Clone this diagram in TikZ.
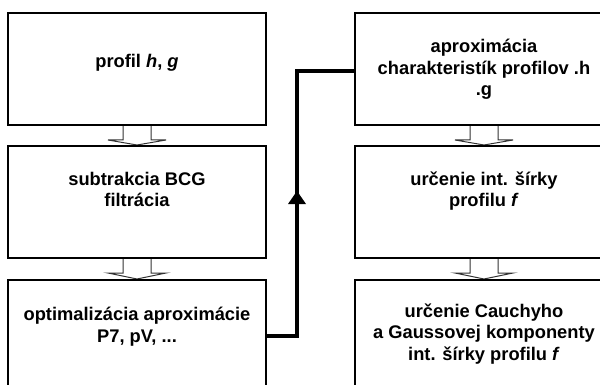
\documentclass[tikz,border=0pt]{standalone}
\usepackage{fontspec}
\setmainfont{Liberation Sans}
\usetikzlibrary{calc}
\pgfdeclarelayer{background}
\pgfsetlayers{background,main}
\newcommand\blkarrow[2]{%
  \begin{pgfonlayer}{background}
    \draw[blockarrow] ($(#1.south)+(-14,0)$) -- ++(0,14) -- ++(-15,0) -- (#2.north)
      -- ($(#1.south)+(29,14)$) -- ++(-15,0) -- ++(0,-14);
  \end{pgfonlayer}}
\begin{document}
\begin{tikzpicture}[x=1pt,y=-1pt,
  box/.style={draw=black,line width=2pt,minimum width=258pt,minimum height=112pt,inner sep=0pt},
  txt/.style={align=center,anchor=base,inner sep=0pt,font=\fontsize{18.3}{21.5}\selectfont\bfseries},
  blockarrow/.style={draw=black!80,line width=1pt,fill=white},
  link/.style={line width=4pt}]
\clip (0,0) rectangle (600,385);
\node[box] (a1) at (137,69) {};
\node[box] (a2) at (137,202) {};
\node[box] (a3) at (137,336) {};
\node[box] (b1) at (484,69) {};
\node[box] (b2) at (484,202) {};
\node[box] (b3) at (484,336) {};
\blkarrow{a1}{a2}
\blkarrow{a2}{a3}
\blkarrow{b1}{b2}
\blkarrow{b2}{b3}
\draw[link] (a3.east) -- ++(30,0) coordinate (v) |- ([yshift=-2pt]b1.west);
\fill (v) ++(0,-145) -- ++(-9,13) -- ++(18,0) -- cycle;
\node[txt] (t1) at (137,68) {profil \textit{h}, \textit{g}};
\node[txt] (t2) at (137,207) {subtrakcia BCG\\filtrácia};
\node[txt] (t3) at (137,342) {optimalizácia aproximácie\\P7, pV, ...};
\node[txt] (u1) at (484,96) {aproximácia\\charakteristík profilov .h\\.g};
\node[txt] (u2) at (484,207) {určenie int. šírky\\profilu \textit{f}};
\node[txt] (u3) at (484,360) {určenie Cauchyho\\a Gaussovej komponenty\\int. šírky profilu \textit{f}};
\end{tikzpicture}
\end{document}
